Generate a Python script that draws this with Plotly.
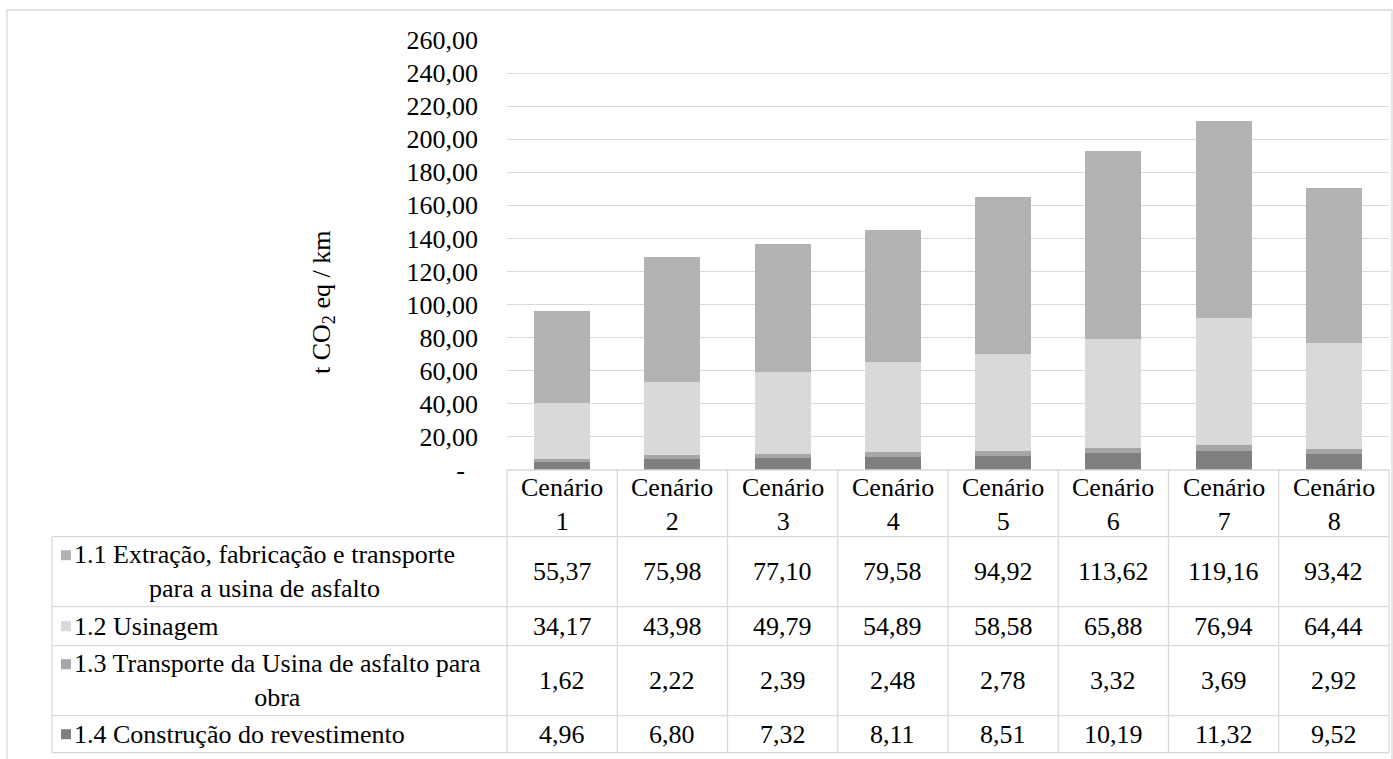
import plotly.graph_objects as go

# ---------------- data ----------------
categories = ["Cenário 1", "Cenário 2", "Cenário 3", "Cenário 4",
              "Cenário 5", "Cenário 6", "Cenário 7", "Cenário 8"]
header_labels = ["Cenário<br>1", "Cenário<br>2", "Cenário<br>3", "Cenário<br>4",
                 "Cenário<br>5", "Cenário<br>6", "Cenário<br>7", "Cenário<br>8"]

s11 = [55.37, 75.98, 77.10, 79.58, 94.92, 113.62, 119.16, 93.42]
s12 = [34.17, 43.98, 49.79, 54.89, 58.58, 65.88, 76.94, 64.44]
s13 = [1.62, 2.22, 2.39, 2.48, 2.78, 3.32, 3.69, 2.92]
s14 = [4.96, 6.80, 7.32, 8.11, 8.51, 10.19, 11.32, 9.52]

series_labels = [
    "1.1 Extração, fabricação e transporte<br>para a usina de asfalto",
    "1.2 Usinagem",
    "1.3 Transporte da Usina de asfalto para<br>obra",
    "1.4 Construção do revestimento",
]
series_values = [s11, s12, s13, s14]
series_colors = ["#b2b2b2", "#d9d9d9", "#a6a6a6", "#7f7f7f"]

y_tick_values = [0, 20, 40, 60, 80, 100, 120, 140, 160, 180, 200, 220, 240, 260]
y_tick_labels = ["-\u00a0\u00a0", "20,00", "40,00", "60,00", "80,00", "100,00", "120,00",
                 "140,00", "160,00", "180,00", "200,00", "220,00", "240,00", "260,00"]
y_title = "t CO<sub>2</sub> eq / km"

# ---------------- geometry ----------------
W, H = 1393, 759
L, R, T, B = 507, 4, 40, 289
PW, PH = W - L - R, H - T - B
FONT = "Liberation Serif, Times New Roman, serif"
FS = 26
GRID = "#d9d9d9"


def px(xp):
    return (xp - L) / PW


def py(yp):
    return (H - B - yp) / PH


fmt = lambda v: f"{v:.2f}".replace(".", ",")

fig = go.Figure()
# stack bottom -> top: 1.4, 1.3, 1.2, 1.1
for name, vals, col in reversed(list(zip(series_labels, series_values, series_colors))):
    fig.add_trace(go.Bar(x=categories, y=vals, name=name.replace("<br>", " "),
                         marker=dict(color=col, line=dict(width=0))))

shapes = []
annotations = []

# outer chart border
shapes.append(dict(type="rect", xref="paper", yref="paper",
                   x0=px(7), x1=px(1392), y0=py(10), y1=py(800),
                   line=dict(color=GRID, width=1.3), fillcolor="rgba(0,0,0,0)", layer="below"))

# data table
row_edges = [470, 536.7, 606.7, 645.7, 715.7, 752.7]
tab_left, leg_left, tab_right = L, 52, W - R
ncol = len(categories)
colw = PW / ncol
# horizontal lines
shapes.append(dict(type="line", xref="paper", yref="paper", x0=px(tab_left), x1=px(tab_right),
                   y0=py(row_edges[0]), y1=py(row_edges[0]), line=dict(color=GRID, width=1.3)))
for ye in row_edges[1:]:
    shapes.append(dict(type="line", xref="paper", yref="paper", x0=px(leg_left), x1=px(tab_right),
                       y0=py(ye), y1=py(ye), line=dict(color=GRID, width=1.3)))
# vertical lines
shapes.append(dict(type="line", xref="paper", yref="paper", x0=px(leg_left), x1=px(leg_left),
                   y0=py(row_edges[1]), y1=py(row_edges[-1]), line=dict(color=GRID, width=1.3)))
for k in range(ncol + 1):
    xv = px(tab_left + k * colw)
    shapes.append(dict(type="line", xref="paper", yref="paper", x0=xv, x1=xv,
                       y0=py(row_edges[0]), y1=py(row_edges[-1]), line=dict(color=GRID, width=1.3)))

tfont = dict(family=FONT, size=FS, color="#000000")
# header row
for cat, lab in zip(categories, header_labels):
    annotations.append(dict(x=cat, xref="x", y=py((row_edges[0] + row_edges[1]) / 2 + 1), yref="paper",
                            text=lab, showarrow=False, xanchor="center", yanchor="middle",
                            font=tfont, align="center"))
# series rows
for r, (lab, vals, col) in enumerate(zip(series_labels, series_values, series_colors)):
    ytop, ybot = row_edges[r + 1], row_edges[r + 2]
    yc = (ytop + ybot) / 2
    two = "<br>" in lab
    key_c = yc - 16.5 if two else yc
    shapes.append(dict(type="rect", xref="paper", yref="paper",
                       x0=px(61), x1=px(71), y0=py(key_c - 5), y1=py(key_c + 5),
                       fillcolor=col, line=dict(width=0)))
    annotations.append(dict(x=px(72), xref="paper", y=py(yc), yref="paper", text=lab,
                            showarrow=False, xanchor="left", yanchor="middle", align="center",
                            font=tfont))
    for cat, v in zip(categories, vals):
        annotations.append(dict(x=cat, xref="x", y=py(yc), yref="paper", text=fmt(v),
                                showarrow=False, xanchor="center", yanchor="middle", font=tfont))

# y axis title
annotations.append(dict(x=px(323), xref="paper", y=py(303), yref="paper", text=y_title,
                        textangle=-90, showarrow=False, xanchor="center", yanchor="middle",
                        font=tfont))

fig.update_layout(
    width=W, height=H,
    margin=dict(l=L, r=R, t=T, b=B, pad=0),
    barmode="stack", bargap=0.49,
    showlegend=False,
    plot_bgcolor="white", paper_bgcolor="white",
    xaxis=dict(range=[-0.5, ncol - 0.5], showticklabels=False, showgrid=False,
               showline=False, zeroline=False, ticks=""),
    yaxis=dict(range=[0, 260], tickmode="array", tickvals=y_tick_values, ticktext=y_tick_labels,
               tickfont=tfont, showgrid=True, gridcolor=GRID, gridwidth=1.3,
               zeroline=False, showline=False, ticks="", ticklabelstandoff=28),
    shapes=shapes, annotations=annotations,
)

fig.write_html("out.html")
